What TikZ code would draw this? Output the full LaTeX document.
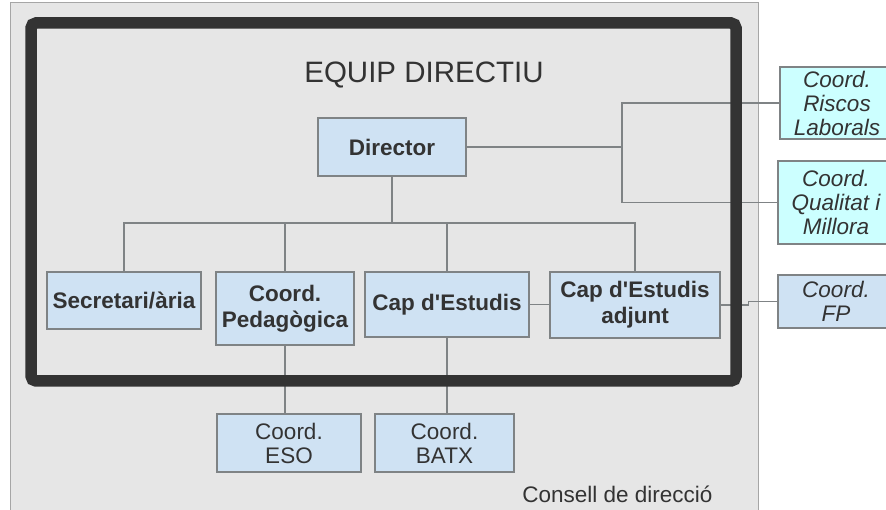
\documentclass[tikz,border=0pt]{standalone}
\usepackage{fontspec}
\setmainfont{Liberation Sans}
\newfontfamily\plainfont{Liberation Sans}
\usepackage{xcolor}
\usetikzlibrary{positioning}

\definecolor{fonsgris}{HTML}{E6E6E6}
\definecolor{marc}{HTML}{333333}
\definecolor{blaucel}{HTML}{CFE2F3}
\definecolor{cian}{HTML}{CCFFFF}
\definecolor{vora}{HTML}{7F8385}
\definecolor{textfosc}{HTML}{333333}

\newcommand{\apos}{{\plainfont'}}

\tikzset{
	carrec/.style={draw=vora, fill=blaucel, line width=1.2pt, text=textfosc, align=center, inner sep=0pt,
		font=\fontsize{22.5}{26}\selectfont\bfseries},
	coordbox/.style={carrec, font=\fontsize{22.5}{24}\selectfont},
	extern/.style={carrec, fill=cian, font=\fontsize{22.5}{24}\selectfont\itshape},
	linia/.style={draw=vora, line width=1.3pt}
}

\begin{document}
\begin{tikzpicture}[x=1pt,y=-1pt]
		\useasboundingbox (0,0) rectangle (886,510);
		\fill[fonsgris, draw=gray!70, line width=1pt] (10.5,3) rectangle (758,515);

		% titol
		\node[text=textfosc, font=\fontsize{29.5}{32}\selectfont] (titol) at (424,75) {EQUIP DIRECTIU};

		% carrecs
		\node[carrec, minimum width=148, minimum height=58] (dir) at (392,147) {Director};
		\node[carrec, minimum width=154, minimum height=57] (sec) at (124,300.5) {Secretari/ària};
		\node[carrec, minimum width=138, minimum height=73] (ped) at (285,308.5) {Coord.\\Pedagògica};
		\node[carrec, minimum width=164, minimum height=65] (cap) at (447,304.5) {Cap d\apos Estudis};
		\node[carrec, minimum width=170, minimum height=66] (adj) at (635,305) {Cap d\apos Estudis\\adjunt};

		% coordinacions
		\node[coordbox, minimum width=144, minimum height=58] (eso) at (289,443) {Coord.\\ESO};
		\node[coordbox, minimum width=139, minimum height=58] (batx) at (444.5,443) {Coord.\\BATX};
		\node[extern, minimum width=114, minimum height=72] (ris) at (837,103) {Coord.\\Riscos\\Laborals};
		\node[extern, minimum width=116, minimum height=83] (qual) at (836,202.5) {Coord.\\Qualitat i\\Millora};
		\node[extern, fill=blaucel, minimum width=116, minimum height=53] (fp) at (836,301.5) {Coord.\\FP};

		% linies
		\coordinate (barra) at (392,223);
		\coordinate (branca) at (622,147);
		\draw[linia] (dir.south) -- (barra);
		\draw[linia] (sec.north) -- (sec.north |- barra) -- (adj.north |- barra) -- (adj.north);
		\foreach \n in {ped,cap}
			\draw[linia] (\n.north) -- (\n.north |- barra);
		\draw[linia] (dir.east) -- (branca);
		\draw[linia] (ris.west) -| (branca);
		\draw[linia] (qual.west) -| (branca);
		\draw[linia] (cap.east) -- (cap.east -| adj.west);
		\draw[linia] (adj.east) -- ++(28,0) |- (fp.west);
		\draw[linia] (ped.south) -- (ped.south |- eso.north);
		\draw[linia] (cap.south) -- (cap.south |- batx.north);

		% marc equip directiu
		\draw[marc, line width=11.5pt, rounded corners=5pt] (31,23) rectangle (736,381);

		\node[anchor=east, text=textfosc, font=\fontsize{22.5}{24}\selectfont] (consell) at (716,494) {Consell de direcció};
	\end{tikzpicture}
\end{document}
